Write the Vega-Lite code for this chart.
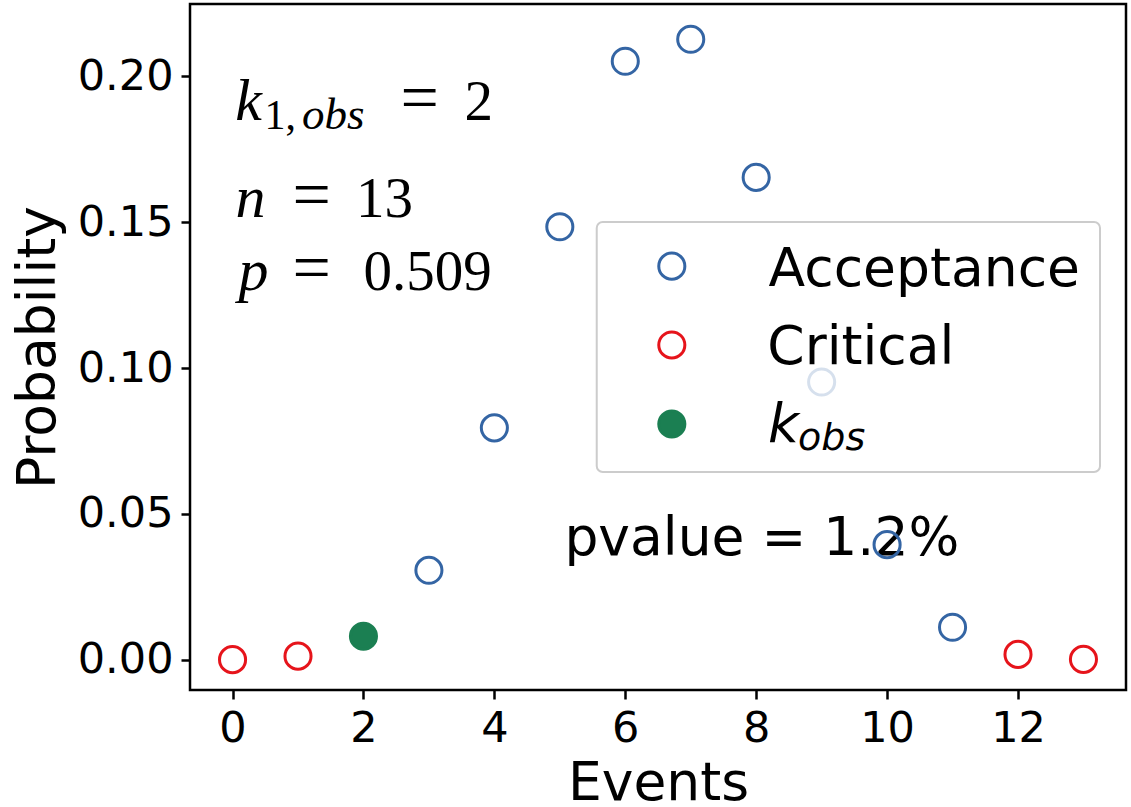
{
  "$schema": "https://vega.github.io/schema/vega-lite/v6.json",
  "width": 936,
  "height": 686,
  "autosize": "none",
  "padding": {"left": 190, "top": 4, "right": 5, "bottom": 117},
  "background": "white",
  "config": {
    "view": {"stroke": "black", "strokeWidth": 2.5},
    "axis": {
      "domain": false,
      "grid": false,
      "labelFont": "DejaVu Sans",
      "labelFontSize": 43,
      "labelColor": "black",
      "tickColor": "black",
      "tickWidth": 2.5,
      "tickSize": 9,
      "labelPadding": 8,
      "titleFont": "DejaVu Sans",
      "titleFontSize": 53.5,
      "titleFontWeight": "normal",
      "titleColor": "black"
    }
  },
  "datasets": {
    "pmf": [
      {"k": 0, "prob": 0.0001, "region": "Critical"},
      {"k": 1, "prob": 0.0013, "region": "Critical"},
      {"k": 2, "prob": 0.0081, "region": "k_obs"},
      {"k": 3, "prob": 0.0307, "region": "Acceptance"},
      {"k": 4, "prob": 0.0795, "region": "Acceptance"},
      {"k": 5, "prob": 0.1484, "region": "Acceptance"},
      {"k": 6, "prob": 0.2051, "region": "Acceptance"},
      {"k": 7, "prob": 0.2126, "region": "Acceptance"},
      {"k": 8, "prob": 0.1653, "region": "Acceptance"},
      {"k": 9, "prob": 0.0952, "region": "Acceptance"},
      {"k": 10, "prob": 0.0395, "region": "Acceptance"},
      {"k": 11, "prob": 0.0112, "region": "Acceptance"},
      {"k": 12, "prob": 0.0019, "region": "Critical"},
      {"k": 13, "prob": 0.0002, "region": "Critical"}
    ]
  },
  "layer": [
    {
      "data": {"values": [{}]},
      "mark": {"type": "text", "align": "center", "baseline": "alphabetic", "font": "Liberation Serif", "fontStyle": "italic", "fontSize": 60, "text": "k", "color": "black"},
      "encoding": {
        "x": {"datum": 0.245, "type": "quantitative", "scale": {"domain": [-0.65, 13.65], "nice": false, "zero": false},
              "axis": {"title": "Events", "values": [0, 2, 4, 6, 8, 10, 12], "format": "d", "labelFlush": false, "titlePadding": 7}},
        "y": {"datum": 0.1849, "type": "quantitative", "scale": {"domain": [-0.0103, 0.2247], "nice": false, "zero": false},
              "axis": {"title": "Probability", "values": [0, 0.05, 0.1, 0.15, 0.2], "format": ".2f", "labelFlush": false, "titlePadding": 12}}
      }
    },
    {
      "data": {"values": [{}]},
      "mark": {"type": "text", "align": "center", "baseline": "alphabetic", "font": "Liberation Serif", "fontSize": 42, "text": "1,", "color": "black"},
      "encoding": {"x": {"datum": 0.73, "type": "quantitative"}, "y": {"datum": 0.1818, "type": "quantitative"}}
    },
    {
      "data": {"values": [{}]},
      "mark": {"type": "text", "align": "center", "baseline": "alphabetic", "font": "Liberation Serif", "fontStyle": "italic", "fontSize": 45, "text": "obs", "color": "black"},
      "encoding": {"x": {"datum": 1.54, "type": "quantitative"}, "y": {"datum": 0.1818, "type": "quantitative"}}
    },
    {
      "data": {"values": [{}]},
      "mark": {"type": "text", "align": "center", "baseline": "alphabetic", "font": "Liberation Serif", "fontSize": 68, "text": "=", "color": "black"},
      "encoding": {"x": {"datum": 2.858, "type": "quantitative"}, "y": {"datum": 0.1849, "type": "quantitative"}}
    },
    {
      "data": {"values": [{}]},
      "mark": {"type": "text", "align": "center", "baseline": "alphabetic", "font": "Liberation Serif", "fontSize": 57, "text": "2", "color": "black"},
      "encoding": {"x": {"datum": 3.76, "type": "quantitative"}, "y": {"datum": 0.1849, "type": "quantitative"}}
    },
    {
      "data": {"values": [{}]},
      "mark": {"type": "text", "align": "center", "baseline": "alphabetic", "font": "Liberation Serif", "fontStyle": "italic", "fontSize": 60, "text": "n", "color": "black"},
      "encoding": {"x": {"datum": 0.275, "type": "quantitative"}, "y": {"datum": 0.1517, "type": "quantitative"}}
    },
    {
      "data": {"values": [{}]},
      "mark": {"type": "text", "align": "center", "baseline": "alphabetic", "font": "Liberation Serif", "fontSize": 68, "text": "=", "color": "black"},
      "encoding": {"x": {"datum": 1.208, "type": "quantitative"}, "y": {"datum": 0.1517, "type": "quantitative"}}
    },
    {
      "data": {"values": [{}]},
      "mark": {"type": "text", "align": "center", "baseline": "alphabetic", "font": "Liberation Serif", "fontSize": 57, "text": "13", "color": "black"},
      "encoding": {"x": {"datum": 2.323, "type": "quantitative"}, "y": {"datum": 0.1517, "type": "quantitative"}}
    },
    {
      "data": {"values": [{}]},
      "mark": {"type": "text", "align": "center", "baseline": "alphabetic", "font": "Liberation Serif", "fontStyle": "italic", "fontSize": 60, "text": "p", "color": "black"},
      "encoding": {"x": {"datum": 0.321, "type": "quantitative"}, "y": {"datum": 0.1267, "type": "quantitative"}}
    },
    {
      "data": {"values": [{}]},
      "mark": {"type": "text", "align": "center", "baseline": "alphabetic", "font": "Liberation Serif", "fontSize": 68, "text": "=", "color": "black"},
      "encoding": {"x": {"datum": 1.208, "type": "quantitative"}, "y": {"datum": 0.1267, "type": "quantitative"}}
    },
    {
      "data": {"values": [{}]},
      "mark": {"type": "text", "align": "center", "baseline": "alphabetic", "font": "Liberation Serif", "fontSize": 57, "text": "0.509", "color": "black"},
      "encoding": {"x": {"datum": 2.981, "type": "quantitative"}, "y": {"datum": 0.1267, "type": "quantitative"}}
    },
    {
      "data": {"values": [{}]},
      "mark": {"type": "text", "align": "left", "baseline": "alphabetic", "font": "DejaVu Sans", "fontSize": 53.5, "text": "pvalue = 1.2%", "color": "black"},
      "encoding": {"x": {"datum": 5.07, "type": "quantitative"}, "y": {"datum": 0.036, "type": "quantitative"}}
    },
    {
      "data": {"name": "pmf"},
      "transform": [{"filter": "datum.region !== 'k_obs'"}],
      "mark": {"type": "point", "shape": "circle", "filled": false, "size": 680, "strokeWidth": 3, "opacity": 1},
      "encoding": {
        "x": {"field": "k", "type": "quantitative"},
        "y": {"field": "prob", "type": "quantitative"},
        "color": {"field": "region", "type": "nominal", "legend": null,
                  "scale": {"domain": ["Acceptance", "Critical", "k_obs"], "range": ["#3465a4", "#e6141b", "#1b7f52"]}}
      }
    },
    {
      "data": {"name": "pmf"},
      "transform": [{"filter": "datum.region === 'k_obs'"}],
      "mark": {"type": "point", "shape": "circle", "filled": true, "size": 680, "strokeWidth": 3, "opacity": 1},
      "encoding": {
        "x": {"field": "k", "type": "quantitative"},
        "y": {"field": "prob", "type": "quantitative"},
        "color": {"field": "region", "type": "nominal", "legend": null},
        "stroke": {"field": "region", "type": "nominal", "legend": null, "scale": {"domain": ["k_obs"], "range": ["#1b7f52"]}}
      }
    },
    {
      "data": {"values": [{}]},
      "mark": {"type": "rect", "fill": "white", "fillOpacity": 0.8, "stroke": "#cccccc", "strokeWidth": 2, "cornerRadius": 6},
      "encoding": {
        "x": {"datum": 5.564, "type": "quantitative"},
        "x2": {"datum": 13.253},
        "y": {"datum": 0.15, "type": "quantitative"},
        "y2": {"datum": 0.0644}
      }
    },
    {
      "data": {"values": [{}]},
      "mark": {"type": "point", "shape": "circle", "filled": false, "size": 680, "strokeWidth": 3, "color": "#3465a4", "opacity": 1},
      "encoding": {"x": {"datum": 6.711, "type": "quantitative"}, "y": {"datum": 0.1349, "type": "quantitative"}}
    },
    {
      "data": {"values": [{}]},
      "mark": {"type": "point", "shape": "circle", "filled": false, "size": 680, "strokeWidth": 3, "color": "#e6141b", "opacity": 1},
      "encoding": {"x": {"datum": 6.711, "type": "quantitative"}, "y": {"datum": 0.1079, "type": "quantitative"}}
    },
    {
      "data": {"values": [{}]},
      "mark": {"type": "point", "shape": "circle", "filled": true, "size": 680, "strokeWidth": 3, "color": "#1b7f52", "stroke": "#1b7f52", "opacity": 1},
      "encoding": {"x": {"datum": 6.711, "type": "quantitative"}, "y": {"datum": 0.0808, "type": "quantitative"}}
    },
    {
      "data": {"values": [{}]},
      "mark": {"type": "text", "align": "left", "baseline": "alphabetic", "font": "DejaVu Sans", "fontSize": 53.5, "text": "Acceptance", "color": "black"},
      "encoding": {"x": {"datum": 8.19, "type": "quantitative"}, "y": {"datum": 0.1281, "type": "quantitative"}}
    },
    {
      "data": {"values": [{}]},
      "mark": {"type": "text", "align": "left", "baseline": "alphabetic", "font": "DejaVu Sans", "fontSize": 53.5, "text": "Critical", "color": "black"},
      "encoding": {"x": {"datum": 8.17, "type": "quantitative"}, "y": {"datum": 0.1014, "type": "quantitative"}}
    },
    {
      "data": {"values": [{}]},
      "mark": {"type": "text", "align": "left", "baseline": "alphabetic", "font": "DejaVu Sans", "fontStyle": "italic", "fontSize": 53.5, "text": "k", "color": "black"},
      "encoding": {"x": {"datum": 8.18, "type": "quantitative"}, "y": {"datum": 0.0747, "type": "quantitative"}}
    },
    {
      "data": {"values": [{}]},
      "mark": {"type": "text", "align": "left", "baseline": "alphabetic", "font": "DejaVu Sans", "fontStyle": "italic", "fontSize": 38, "text": "obs", "color": "black"},
      "encoding": {"x": {"datum": 8.64, "type": "quantitative"}, "y": {"datum": 0.0719, "type": "quantitative"}}
    }
  ]
}
